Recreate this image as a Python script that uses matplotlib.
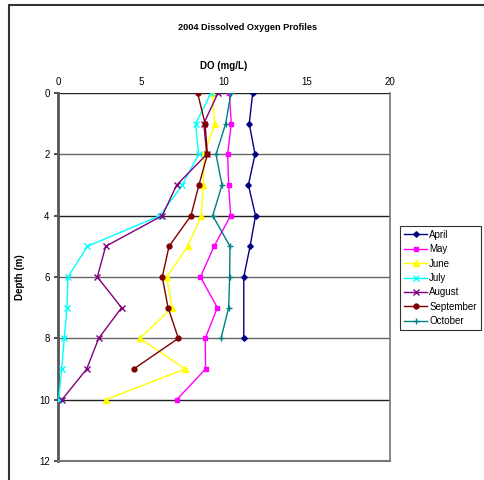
import matplotlib.pyplot as plt
from matplotlib.patches import Rectangle

plt.rcParams['font.family'] = ['Liberation Sans', 'DejaVu Sans']

# Depth (m) and dissolved oxygen (mg/L) for each monthly profile
depth_full = [0, 1, 2, 3, 4, 5, 6, 7, 8, 9, 10]

april_depth = [0, 1, 2, 3, 4, 5, 6, 8]
april_do = [11.73, 11.52, 11.87, 11.47, 11.9, 11.57, 11.19, 11.19]

may_depth = depth_full
may_do = [10.32, 10.44, 10.22, 10.28, 10.4, 9.4, 8.58, 9.6, 8.87, 8.89, 7.15]

june_depth = depth_full
june_do = [9.3, 9.44, 8.8, 8.76, 8.63, 7.81, 6.55, 6.87, 4.94, 7.65, 2.87]

july_depth = depth_full
july_do = [9.22, 8.29, 8.47, 7.49, 6.14, 1.77, 0.6, 0.54, 0.38, 0.22, 0.04]

august_depth = depth_full
august_do = [9.64, 8.78, 8.96, 7.15, 6.28, 2.87, 2.37, 3.83, 2.45, 1.73, 0.24]

september_depth = [0, 1, 2, 3, 4, 5, 6, 7, 8, 9]
september_do = [8.41, 8.86, 9.0, 8.49, 8.01, 6.69, 6.28, 6.63, 7.25, 4.56]

october_depth = [0, 1, 2, 3, 4, 5, 6, 7, 8]
october_do = [10.42, 10.1, 9.52, 9.88, 9.32, 10.36, 10.34, 10.28, 9.82]

x_ticks = [0, 5, 10, 15, 20]
y_ticks = [0, 2, 4, 6, 8, 10, 12]

series = [
    ('April', april_do, april_depth, '#000080', 'D', 2.8),
    ('May', may_do, may_depth, '#FF00FF', 's', 3.5),
    ('June', june_do, june_depth, '#FFFF00', '^', 4),
    ('July', july_do, july_depth, '#00FFFF', 'x', 3.8),
    ('August', august_do, august_depth, '#800080', 'x', 3.8),
    ('September', september_do, september_depth, '#800000', 'o', 3.5),
    ('October', october_do, october_depth, '#008080', '+', 4.5),
]

fig = plt.figure(figsize=(4.85, 4.80), dpi=100)

# outer chart border (partly cut off at the right/bottom)
fig.patches.append(Rectangle((9 / 485, -0.1), 1.2, 1 - 5 / 480 + 0.1,
                             transform=fig.transFigure, fill=False,
                             edgecolor='#333333', lw=1.5))

ax = fig.add_axes([58 / 485, 1 - 461 / 480, (390 - 58) / 485, (461 - 93) / 480])

for y in [0, 2, 4, 6, 8, 10]:
    ax.axhline(y, color='#222222' if y in (0, 4, 10) else '#666666', lw=1.0, zorder=1)

for name, do, depth, color, marker, ms in series:
    ax.plot(do, depth, color=color, marker=marker, markersize=ms, lw=1.0,
            markeredgewidth=1.0, label=name, zorder=3)

ax.set_xlim(0, 20)
ax.set_ylim(12, 0)
ax.set_xticks(x_ticks)
ax.set_yticks(y_ticks)
ax.xaxis.tick_top()
ax.xaxis.set_label_position('top')
ax.tick_params(axis='x', length=0, labelsize=7, pad=4)
ax.tick_params(axis='y', length=3, width=1.5, color='#555555', labelsize=7, pad=3)
for side in ['left', 'bottom', 'right']:
    ax.spines[side].set_color('#777777')
ax.spines['left'].set_linewidth(2)
ax.spines['left'].set_color('#555555')
ax.spines['bottom'].set_linewidth(1.5)
ax.spines['right'].set_linewidth(1.2)
ax.spines['top'].set_visible(False)

ax.set_xlabel('DO (mg/L)', fontsize=7, fontweight='bold', labelpad=6)
ax.set_ylabel('Depth (m)', fontsize=7, fontweight='bold', labelpad=10)

fig.text(248 / 485, 1 - 27 / 480, '2004 Dissolved Oxygen Profiles',
         ha='center', va='center', fontsize=6.6, fontweight='bold')

leg = ax.legend(loc='upper left', bbox_to_anchor=(400 / 485, 1 - 226 / 480),
                bbox_transform=fig.transFigure, fontsize=7, frameon=True,
                fancybox=False, edgecolor='black', borderaxespad=0,
                handlelength=2.4, labelspacing=0.45, borderpad=0.4,
                handletextpad=0.2)
leg.get_frame().set_linewidth(0.8)

fig.savefig('out.png', dpi=100)
